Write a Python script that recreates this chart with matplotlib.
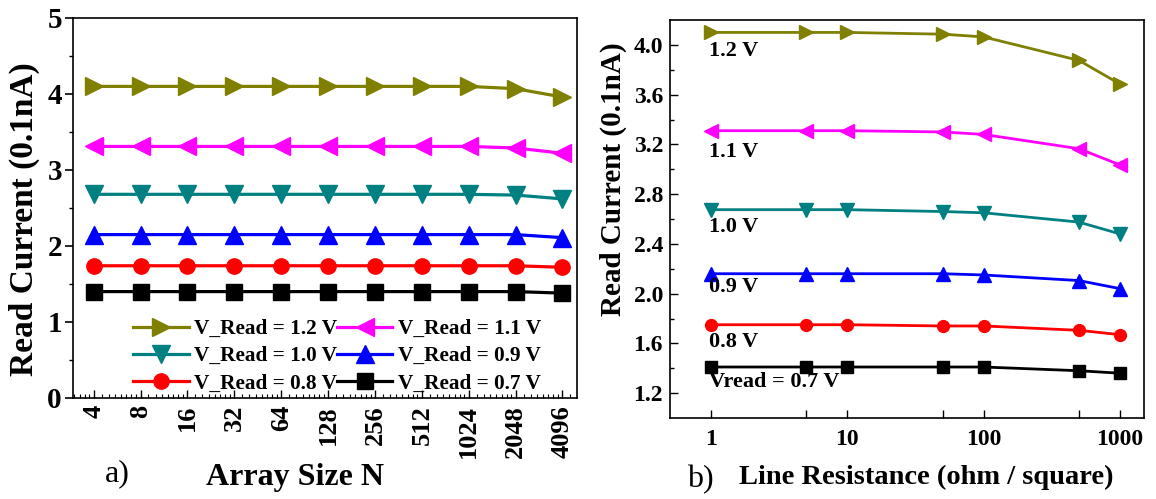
import matplotlib
matplotlib.use('Agg')
import matplotlib.pyplot as plt
import numpy as np
from matplotlib.ticker import FixedLocator, NullFormatter

plt.rcParams['font.family'] = 'Liberation Serif'
plt.rcParams['font.weight'] = 'bold'
plt.rcParams['axes.linewidth'] = 1.2

# ---- data: panel a) read current vs array size ----
array_size = [4, 8, 16, 32, 64, 128, 256, 512, 1024, 2048, 4096]
size_labels = ['4', '8', '16', '32', '64', '128', '256', '512', '1024', '2048', '4096']
a_12 = [4.10, 4.10, 4.10, 4.10, 4.10, 4.10, 4.10, 4.10, 4.10, 4.07, 3.96]
a_11 = [3.31, 3.31, 3.31, 3.31, 3.31, 3.31, 3.31, 3.31, 3.31, 3.29, 3.22]
a_10 = [2.68, 2.68, 2.68, 2.68, 2.68, 2.68, 2.68, 2.68, 2.68, 2.67, 2.62]
a_09 = [2.15, 2.15, 2.15, 2.15, 2.15, 2.15, 2.15, 2.15, 2.15, 2.15, 2.11]
a_08 = [1.74, 1.74, 1.74, 1.74, 1.74, 1.74, 1.74, 1.74, 1.74, 1.74, 1.72]
a_07 = [1.40, 1.40, 1.40, 1.40, 1.40, 1.40, 1.40, 1.40, 1.40, 1.40, 1.38]

# ---- data: panel b) read current vs line resistance ----
line_res = [1, 5, 10, 50, 100, 500, 1000]
b_12 = [4.10, 4.10, 4.10, 4.086, 4.064, 3.875, 3.685]
b_11 = [3.31, 3.31, 3.31, 3.30, 3.28, 3.165, 3.035]
b_10 = [2.675, 2.675, 2.675, 2.66, 2.65, 2.575, 2.48]
b_09 = [2.16, 2.16, 2.16, 2.16, 2.15, 2.105, 2.04]
b_08 = [1.75, 1.75, 1.75, 1.74, 1.74, 1.705, 1.67]
b_07 = [1.41, 1.41, 1.41, 1.41, 1.41, 1.38, 1.36]

voltages = ['1.2', '1.1', '1.0', '0.9', '0.8', '0.7']
colors = ['#808000', '#FF00FF', '#008080', '#0000FF', '#FF0000', '#000000']
markers = ['>', '<', 'v', '^', 'o', 's']
b_text = ['1.2 V', '1.1 V', '1.0 V', '0.9 V', '0.8 V', 'Vread = 0.7 V']
b_text_y = [3.953, 3.142, 2.536, 2.05, 1.608, 1.286]

a_series = [a_12, a_11, a_10, a_09, a_08, a_07]
b_series = [b_12, b_11, b_10, b_09, b_08, b_07]

fig = plt.figure(figsize=(11.56, 4.99), dpi=100)
ax1 = fig.add_axes([73/1156, 1 - 398/499, (577-73)/1156, (398-18)/499])
ax2 = fig.add_axes([670/1156, 1 - 418/499, (1144-670)/1156, (418-20)/499])

# ---- panel a ----
lines = []
for v, y, c, m in zip(voltages, a_series, colors, markers):
    ms = 13 if m in '<>v^' else 11
    ln, = ax1.plot(array_size, y, color=c, marker=m, markersize=ms, lw=2.3,
                   label=f'V_Read = {v} V')
    lines.append(ln)

ax1.set_xscale('log', base=2)
ax1.set_xlim(4 * 2**-0.44, 4096 * 2**0.31)
ax1.set_ylim(0, 5)
ax1.xaxis.set_major_locator(FixedLocator(array_size))
ax1.set_xticklabels(size_labels, rotation=90, fontsize=19, fontweight='bold')
ax1.xaxis.set_minor_locator(FixedLocator(
    [b * s for b in [2, 4, 8, 16, 32, 64, 128, 256, 512, 1024, 2048, 4096]
     for s in np.arange(1.125, 2.0, 0.125)]))
ax1.xaxis.set_minor_formatter(NullFormatter())
ax1.tick_params(axis='x', which='major', direction='in', length=6, width=1, pad=5)
ax1.tick_params(axis='x', which='minor', direction='in', length=3, width=0.8)
ax1.set_yticks([0, 1, 2, 3, 4, 5])
ax1.set_yticks(np.arange(0.5, 5, 1.0), minor=True)
ax1.tick_params(axis='y', which='major', direction='out', length=6, width=1.2,
                labelsize=21, pad=2)
ax1.tick_params(axis='y', which='minor', direction='out', length=3, width=1.0)
for lab in ax1.get_yticklabels():
    lab.set_fontweight('bold')
ax1.set_ylabel('Read Current (0.1nA)', fontsize=24, fontweight='bold')
ax1.yaxis.set_label_coords(-0.066, 0.47)

handles = [lines[0], lines[2], lines[4], lines[1], lines[3], lines[5]]
ax1.legend(handles=handles, ncol=2, loc='lower left', bbox_to_anchor=(0.12, 0.012),
           frameon=False, handlelength=2.6, handletextpad=0.25,
           columnspacing=0.0, labelspacing=0.34, borderpad=0, borderaxespad=0,
           prop={'weight': 'bold', 'size': 15.3})

ax1.text(0.44, -0.21, 'Array Size N', transform=ax1.transAxes, ha='center',
         va='center', fontsize=23, fontweight='bold')
ax1.text(0.087, -0.20, 'a)', transform=ax1.transAxes, ha='center',
         va='center', fontsize=23, fontweight='normal')

# ---- panel b ----
for y, c, m, t, ty in zip(b_series, colors, markers, b_text, b_text_y):
    ms = 9.5 if m in '<>v^' else 8.5
    ax2.plot(line_res, y, color=c, marker=m, markersize=ms, lw=2.0)
    ax2.text(0.97, ty, t, ha='left', va='center', fontsize=16, fontweight='bold')

ax2.set_xscale('log')
ax2.set_xlim(0.5, 1500)
ax2.set_ylim(1.0, 4.2)
ax2.xaxis.set_major_locator(FixedLocator([1, 10, 100, 1000]))
ax2.set_xticklabels(['1', '10', '100', '1000'], fontsize=17, fontweight='bold')
ax2.xaxis.set_minor_locator(FixedLocator([5, 50, 500]))
ax2.xaxis.set_minor_formatter(NullFormatter())
ax2.tick_params(axis='x', which='both', direction='in', length=6, width=1, pad=8)
ax2.set_yticks([1.2, 1.6, 2.0, 2.4, 2.8, 3.2, 3.6, 4.0])
ax2.set_yticks(np.arange(1.4, 4.2, 0.4), minor=True)
ax2.set_yticklabels(['1.2', '1.6', '2.0', '2.4', '2.8', '3.2', '3.6', '4.0'],
                    fontsize=17, fontweight='bold')
ax2.tick_params(axis='y', which='major', direction='in', length=6, width=1, pad=5)
ax2.tick_params(axis='y', which='minor', direction='in', length=3, width=1)
ax2.set_ylabel('Read Current (0.1nA)', fontsize=21, fontweight='bold')
ax2.yaxis.set_label_coords(-0.09, 0.6)

ax2.text(0.54, -0.15, 'Line Resistance (ohm / square)', transform=ax2.transAxes,
         ha='center', va='center', fontsize=20.5, fontweight='bold')
ax2.text(0.063, -0.155, 'b)', transform=ax2.transAxes, ha='center',
         va='center', fontsize=23, fontweight='normal')

fig.savefig('out.png', dpi=100)
